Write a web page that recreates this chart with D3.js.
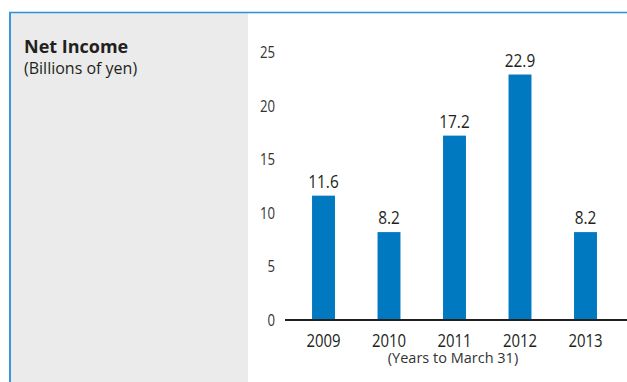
<!DOCTYPE html>
<html>
<head>
<meta charset="utf-8">
<script src="https://cdn.jsdelivr.net/npm/d3@7"></script>
<style>
  html, body { margin: 0; padding: 0; background: #fff; }
  svg { display: block; font-family: "Open Sans", sans-serif; }
</style>
</head>
<body>
<svg id="chart" width="627" height="382"></svg>
<script>
// Net income by fiscal year (billions of yen)
const years = ["2009", "2010", "2011", "2012", "2013"];
const netIncome = [11.6, 8.2, 17.2, 22.9, 8.2];
const yTicks = [0, 5, 10, 15, 20, 25];

// Numerals are set in a condensed cut: horizontal squeeze of the text face
const NUM_SQUEEZE = 0.83;

const svg = d3.select("#chart");

// Title panel (grey) with blue frame lines
svg.append("rect").attr("x", 10).attr("y", 13).attr("width", 238).attr("height", 369)
  .attr("fill", "#eaebea");
svg.append("line").attr("x1", 9).attr("x2", 627).attr("y1", 12.5).attr("y2", 12.5)
  .attr("stroke", "#2e8fd6").attr("stroke-width", 1.5);
svg.append("line").attr("x1", 10).attr("x2", 10).attr("y1", 12).attr("y2", 382)
  .attr("stroke", "#3a97dc").attr("stroke-width", 2);

svg.append("text").attr("x", 24).attr("y", 53)
  .attr("font-size", 18).attr("font-weight", 700).attr("fill", "#231f20")
  .text("Net Income");
svg.append("text").attr("x", 24).attr("y", 74)
  .attr("font-size", 16).attr("fill", "#231f20")
  .text("(Billions of yen)");

// Scales
const x = d3.scaleBand().domain(years).range([290.75, 618.25])
  .paddingInner(0.65).paddingOuter(0.325);
const y = d3.scaleLinear().domain([0, 25]).range([320, 52]);

// Y axis labels (no axis line)
const yAxis = d3.axisLeft(y).tickValues(yTicks).tickSize(0).tickPadding(0);
const gy = svg.append("g").attr("transform", "translate(275,0)").call(yAxis);
gy.select(".domain").remove();
gy.attr("font-family", null).attr("font-size", null);
gy.selectAll("text")
  .attr("font-size", 15.5).attr("fill", "#333")
  .attr("x", 0).attr("dy", "0.36em")
  .attr("transform", "scale(0.85,1)");

// Bars
svg.append("g").selectAll("rect").data(years).join("rect")
  .attr("x", d => x(d))
  .attr("width", x.bandwidth())
  .attr("y", (d, i) => y(netIncome[i]))
  .attr("height", (d, i) => y(0) - y(netIncome[i]))
  .attr("fill", "#0079c1");

// Value labels above bars
svg.append("g").selectAll("g").data(years).join("g")
  .attr("transform", (d, i) => `translate(${x(d) + x.bandwidth() / 2},${y(netIncome[i]) - 8})`)
  .append("text")
  .attr("transform", `scale(${NUM_SQUEEZE},1)`)
  .attr("text-anchor", "middle")
  .attr("font-size", 18.5).attr("fill", "#231f20")
  .text((d, i) => netIncome[i].toFixed(1));

// X axis: year labels and baseline
const xAxis = d3.axisBottom(x).tickSize(0).tickPadding(0);
const gx = svg.append("g").attr("transform", `translate(0,${y(0)})`).call(xAxis);
gx.select(".domain").remove();
gx.attr("font-family", null).attr("font-size", null);
gx.selectAll("text")
  .attr("font-size", 18).attr("fill", "#231f20")
  .attr("y", 27.5).attr("dy", null)
  .attr("transform", `scale(${NUM_SQUEEZE},1)`);
svg.append("line").attr("x1", 285).attr("x2", 627).attr("y1", y(0)).attr("y2", y(0))
  .attr("stroke", "#231f20").attr("stroke-width", 2);

svg.append("text").attr("x", 453).attr("y", 363)
  .attr("text-anchor", "middle").attr("font-size", 14.5).attr("fill", "#333")
  .text("(Years to March 31)");
</script>
</body>
</html>
